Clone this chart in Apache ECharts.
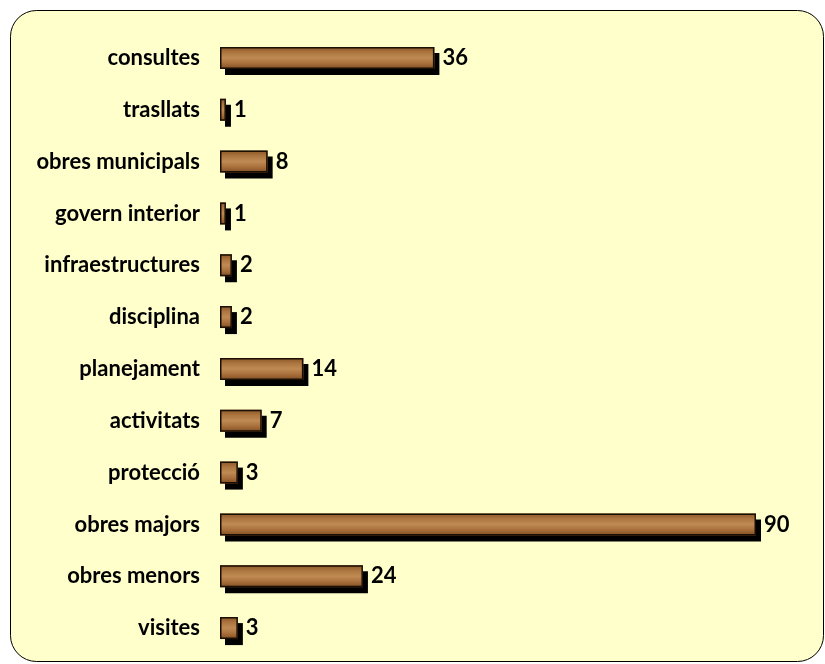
<!DOCTYPE html>
<html>
<head>
<meta charset="utf-8">
<script src="https://cdn.jsdelivr.net/npm/echarts@6/dist/echarts.min.js"></script>
<style>
  html, body { margin: 0; padding: 0; background: #ffffff; }
  #chart { width: 825px; height: 664px; }
</style>
</head>
<body>
<div id="chart"></div>
<script>
const categories = [
  "consultes", "trasllats", "obres municipals", "govern interior",
  "infraestructures", "disciplina", "planejament", "activitats",
  "protecció", "obres majors", "obres menors", "visites"
];
const values = [36, 1, 8, 1, 2, 2, 14, 7, 3, 90, 24, 3];

const chart = echarts.init(document.getElementById("chart"), null, { renderer: "canvas" });

// wood-ish fill for the bars
const wood = new echarts.graphic.LinearGradient(0, 0, 0, 1, [
  { offset: 0, color: "#8a5527" },
  { offset: 0.25, color: "#ad7640" },
  { offset: 0.5, color: "#bf8a53" },
  { offset: 0.75, color: "#a86f3b" },
  { offset: 1, color: "#7f4d22" }
]);

chart.setOption({
  animation: false,
  backgroundColor: "#ffffff",
  textStyle: { fontFamily: "Lato, 'Open Sans', sans-serif" },
  graphic: [
    {
      type: "rect",
      z: -10,
      shape: { x: 10.5, y: 10.5, width: 813, height: 651, r: 26 },
      style: { fill: "#ffffcc", stroke: "#000000", lineWidth: 1 }
    }
  ],
  grid: { left: 220, top: 32, width: 536, height: 622, containLabel: false },
  xAxis: {
    type: "value",
    min: 0,
    max: 90,
    show: false
  },
  yAxis: {
    type: "category",
    data: categories,
    inverse: true,
    axisLine: { show: false },
    axisTick: { show: false },
    axisLabel: {
      color: "#000000",
      fontSize: 22,
      fontWeight: "bold",
      margin: 20
    }
  },
  series: [
    {
      // filled bar with its hard black drop shadow
      type: "bar",
      data: values,
      barWidth: 22,
      itemStyle: {
        color: wood,
        borderWidth: 0,
        shadowColor: "#000000",
        shadowBlur: 0,
        shadowOffsetX: 5,
        shadowOffsetY: 6
      },
      emphasis: { disabled: true }
    },
    {
      // outline drawn on top, no shadow
      type: "bar",
      data: values,
      barWidth: 22,
      barGap: "-100%",
      itemStyle: {
        color: "rgba(0,0,0,0)",
        borderColor: "#1a0f05",
        borderWidth: 1.5
      },
      label: {
        show: true,
        position: "right",
        distance: 8,
        color: "#000000",
        fontSize: 22,
        fontWeight: "bold"
      },
      emphasis: { disabled: true }
    }
  ]
});
</script>
</body>
</html>
